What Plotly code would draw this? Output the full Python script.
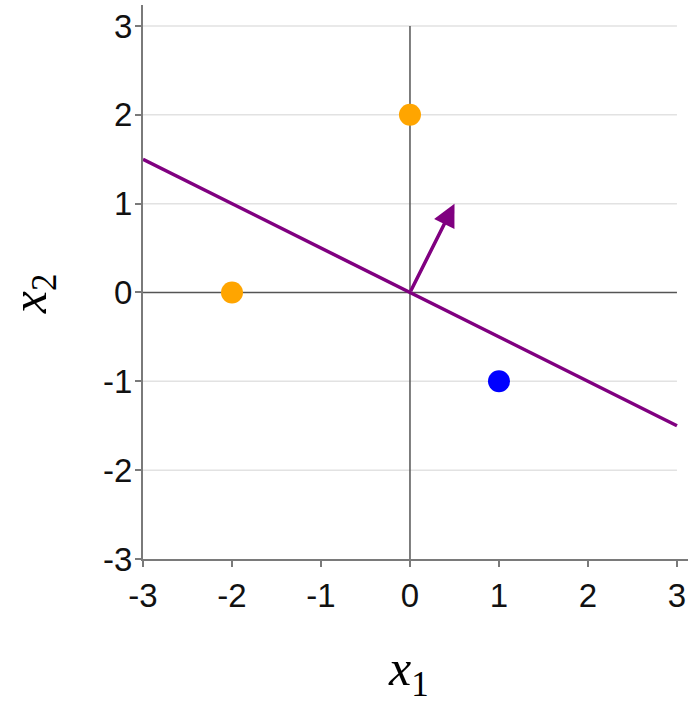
import plotly.graph_objects as go

# Data
orange_x = [-2, 0]
orange_y = [0, 2]
blue_x = [1]
blue_y = [-1]
boundary_x = [-3, 3]
boundary_y = [1.5, -1.5]
weight_vec = [0.5, 1]
tick_vals = [-3, -2, -1, 0, 1, 2, 3]
tick_text = ["-3", "-2", "-1", "0", "1", "2", "3"]
grid_y = [-2, -1, 1, 2, 3]

PURPLE = "#800080"
AXIS_GRAY = "#7a7a7a"

fig = go.Figure()

# gridlines as shapes (span only the -3..3 domain)
for gy in grid_y:
    fig.add_shape(type="line", x0=-3, x1=3, y0=gy, y1=gy, xref="x", yref="y",
                  line=dict(color="#e2e2e2", width=1.5), layer="below")
# zero lines
fig.add_shape(type="line", x0=0, x1=0, y0=-3, y1=3, xref="x", yref="y",
              line=dict(color="#555555", width=1.5), layer="below")
fig.add_shape(type="line", x0=-3, x1=3, y0=0, y1=0, xref="x", yref="y",
              line=dict(color="#555555", width=1.5), layer="below")

fig.add_trace(go.Scatter(x=boundary_x, y=boundary_y, mode="lines",
                         line=dict(color=PURPLE, width=3.5), showlegend=False,
                         hoverinfo="skip"))
fig.add_trace(go.Scatter(x=orange_x, y=orange_y, mode="markers",
                         marker=dict(color="#FFA500", size=22), showlegend=False))
fig.add_trace(go.Scatter(x=blue_x, y=blue_y, mode="markers",
                         marker=dict(color="#0000FF", size=22), showlegend=False))

fig.add_annotation(x=weight_vec[0], y=weight_vec[1], ax=0, ay=0,
                   xref="x", yref="y", axref="x", ayref="y",
                   showarrow=True, arrowhead=2, arrowsize=1.3, arrowwidth=3.5,
                   arrowcolor=PURPLE, text="")

# axis titles
fig.add_annotation(text="<i>x</i><sub>1</sub>", xref="paper", yref="paper",
                   x=0.487, y=0, yanchor="middle", yshift=-113, showarrow=False,
                   font=dict(family="Liberation Serif", size=50, color="black"))
fig.add_annotation(text="<i>x</i><sub>2</sub>", xref="paper", yref="paper",
                   x=0, xanchor="center", xshift=-110, y=0.478, textangle=-90,
                   showarrow=False,
                   font=dict(family="Liberation Serif", size=50, color="black"))

axis_common = dict(showgrid=False, zeroline=False, showline=True,
                   linecolor=AXIS_GRAY, linewidth=2, ticks="outside",
                   ticklen=6, tickwidth=1.5, tickcolor=AXIS_GRAY,
                   tickvals=tick_vals, ticktext=tick_text, automargin=False,
                   tickfont=dict(family="Liberation Sans", size=33, color="#111"))

fig.update_xaxes(range=[-3, 3.124], **axis_common)
fig.update_yaxes(range=[-3, 3.236], ticklabelstandoff=-4, **axis_common)

fig.update_layout(width=690, height=701,
                  margin=dict(l=143, r=2, t=5, b=142, autoexpand=False),
                  plot_bgcolor="white", paper_bgcolor="white")

fig.write_html("out.html", config={"displayModeBar": False},
               post_script="document.body.style.margin='0px';document.body.style.overflow='hidden';")
